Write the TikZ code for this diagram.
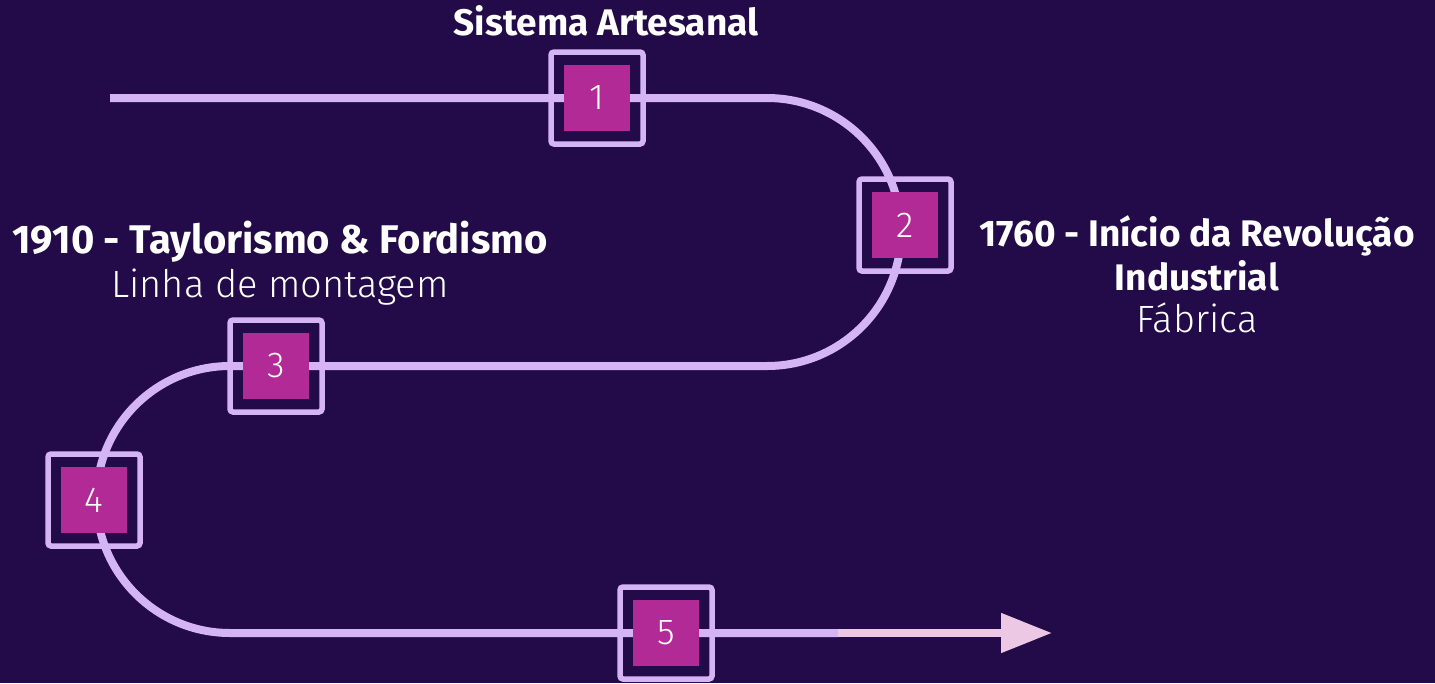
\documentclass[tikz,border=0pt]{standalone}
\usepackage{fontspec}
\setmainfont{Fira Sans}
\newfontfamily\lightf{Fira Sans Light}
\usetikzlibrary{arrows.meta}
\definecolor{bg}{HTML}{220B48}
\definecolor{lav}{HTML}{D4B4F4}
\definecolor{mag}{HTML}{B22A96}
\definecolor{pinkl}{HTML}{ECC8E4}
\tikzset{
  track/.style={draw=lav, line width=8pt},
  frame/.style={draw=lav, line width=5.5pt, rounded corners=3pt, minimum size=92pt, inner sep=0pt},
  numbox/.style={fill=mag, minimum size=66pt, inner sep=0pt, text=white, font=\lightf\fontsize{36}{36}\selectfont},
  titlebold/.style={anchor=base, text=white, font=\bfseries\fontsize{37}{40}\selectfont, inner sep=0pt},
  titlebig/.style={anchor=base, text=white, font=\bfseries\fontsize{40}{44}\selectfont, inner sep=0pt},
  titlelight/.style={anchor=base, text=white, font=\lightf\fontsize{38}{40}\selectfont, inner sep=0pt}
}
\begin{document}
\begin{tikzpicture}[x=1pt,y=1pt]
\useasboundingbox (0,0) rectangle (1435,-683);
\fill[bg] (0,0) rectangle (1435,-683);
% anchor points
\coordinate (s) at (110,-98);
\coordinate (r1) at (767,-98);
\coordinate (l1) at (230,-366);
\coordinate (pk) at (838,-633);
\coordinate (tip) at (1052,-633);
% frames
\node[frame] (f1) at (597,-98) {};
\node[frame] (f2) at (905,-225) {};
\node[frame] (f3) at (276,-366) {};
\node[frame] (f4) at (94,-500) {};
\node[frame] (f5) at (666,-633) {};
% track
\draw[track] (s) -- (f1.center) -- (r1) arc[start angle=90, end angle=-90, radius=134pt]
  -- (f3.center) -- (l1) arc[start angle=90, end angle=270, radius=133.5pt] -- (f5.center) -- (pk);
\draw[draw=pinkl, line width=8pt, -{Triangle[length=51pt,width=38pt]}] (pk) -- (tip);
% number boxes
\node[numbox] (n1) at (f1.center) {1};
\node[numbox] (n2) at (f2.center) {2};
\node[numbox] (n3) at (f3.center) {3};
\node[numbox] (n4) at (f4.center) {4};
\node[numbox] (n5) at (f5.center) {5};
% texts
\node[titlebold] (t1) at (606,-35) {Sistema Artesanal};
\node[titlebig] (t3a) at (280,-253) {1910 - Taylorismo \& Fordismo};
\node[titlelight] (t3b) at (280,-297) {Linha de montagem};
\node[titlebold] (t2a) at (1197,-246) {1760 - Início da Revolução};
\node[titlebold] (t2b) at (1197,-290) {Industria{\lightf l}};
\node[titlelight] (t2c) at (1197,-332) {Fábrica};
\end{tikzpicture}
\end{document}
